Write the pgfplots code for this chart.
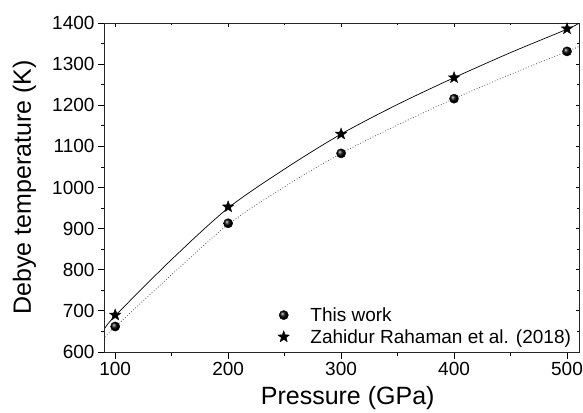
\documentclass[border=0pt]{standalone}
\usepackage{fontspec}
\setmainfont{Liberation Sans}
\usepackage{pgfplots}
\pgfplotsset{compat=1.18}

% filled five-point star
\pgfdeclareplotmark{fstar}{%
  \pgfpathmoveto{\pgfpointpolar{90}{\pgfplotmarksize}}%
  \pgfpathlineto{\pgfpointpolar{126}{0.42\pgfplotmarksize}}%
  \pgfpathlineto{\pgfpointpolar{162}{\pgfplotmarksize}}%
  \pgfpathlineto{\pgfpointpolar{198}{0.42\pgfplotmarksize}}%
  \pgfpathlineto{\pgfpointpolar{234}{\pgfplotmarksize}}%
  \pgfpathlineto{\pgfpointpolar{270}{0.42\pgfplotmarksize}}%
  \pgfpathlineto{\pgfpointpolar{306}{\pgfplotmarksize}}%
  \pgfpathlineto{\pgfpointpolar{342}{0.42\pgfplotmarksize}}%
  \pgfpathlineto{\pgfpointpolar{18}{\pgfplotmarksize}}%
  \pgfpathlineto{\pgfpointpolar{54}{0.42\pgfplotmarksize}}%
  \pgfpathclose
  \pgfusepathqfillstroke}

\pgfplotsset{
  common/.style={
    scale only axis,
    width=474pt, height=329pt,
    xmin=91, xmax=510.6,
    ymin=600, ymax=1400,
    xtick={100,200,...,500}, minor x tick num=1,
    ytick={600,700,...,1400}, minor y tick num=1,
    axis line style={line width=1pt, black!85},
    tick style={line width=0.8pt, black},
  }
}

\begin{document}
\begin{tikzpicture}
\path[use as bounding box] (-105pt,-60pt) rectangle (478pt,352pt);
% inner ticks on top and right
\begin{axis}[common,
    axis x line*=top, axis y line*=right,
    tick align=inside,
    major tick length=3.5pt, minor tick length=2pt,
    xticklabels={}, yticklabels={},
]
\end{axis}
\begin{axis}[common,
    tick pos=left,
    tick align=outside,
    major tick length=7pt, minor tick length=4pt,
    ticklabel style={font=\fontsize{19}{19}\selectfont},
    /pgf/number format/assume math mode=true,
    /pgf/number format/1000 sep={},
    xlabel={Pressure (GPa)},
    ylabel={Debye temperature (K)},
    label style={font=\fontsize{25}{25}\selectfont},
    xlabel style={at={(axis description cs:0.512,-0.161)}, anchor=base},
    ylabel style={at={(axis description cs:-0.170,0.5)}, anchor=center},
    legend style={draw=none, fill=none, at={(0.994,0.01)}, anchor=south east,
        font=\fontsize{19}{19}\selectfont, row sep=2.5pt,
        /tikz/every odd column/.style={column sep=19pt}},
    legend cell align=left,
]
% fitted curves
\addplot[black, line width=0.7pt, smooth, forget plot] coordinates {
    (91,658) (100,688) (150,825) (200,950) (250,1045) (300,1130)
    (350,1202) (400,1267) (450,1328) (500,1385) (511,1400)
};
\addplot[black!65, line width=0.8pt, dotted, smooth, forget plot] coordinates {
    (91,636) (100,661) (150,788) (200,910) (250,1002) (300,1083)
    (350,1152) (400,1216) (450,1275) (500,1331) (511,1343)
};
% data
\addplot[only marks, mark=ball, mark size=4.6pt, mark options={ball color=black}] coordinates {
    (100,662) (200,913) (300,1083) (400,1216) (500,1331)
};
\addlegendentry{This work}
\addplot[only marks, mark=fstar, mark size=6pt, fill=black, draw=black] coordinates {
    (100,690) (200,953) (300,1130) (400,1267) (500,1386)
};
\addlegendentry{Zahidur Rahaman et al. (2018)}
\end{axis}
\end{tikzpicture}
\end{document}
